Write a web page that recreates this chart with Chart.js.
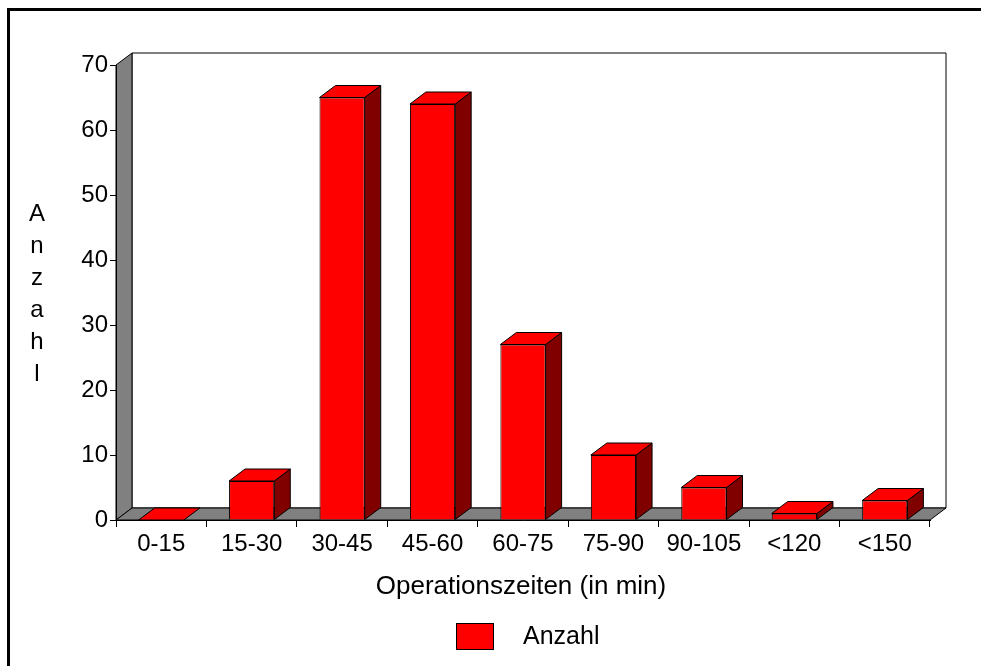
<!DOCTYPE html>
<html>
<head>
<meta charset="utf-8">
<script src="https://cdn.jsdelivr.net/npm/chart.js@4.4.1/dist/chart.umd.min.js"></script>
<style>
  html, body { margin: 0; padding: 0; background: #ffffff; }
  canvas { display: block; }
</style>
</head>
<body>
<canvas id="c" width="981" height="666"></canvas>
<script>
// Surgery durations, grouped in 15-minute classes
const categories = ['0-15', '15-30', '30-45', '45-60', '60-75', '75-90', '90-105', '<120', '<150'];
const anzahl = [0, 6, 65, 64, 27, 10, 5, 1, 3];
const yMin = 0;
const yMax = 70;
const yStep = 10;
const seriesName = 'Anzahl';
const xTitle = 'Operationszeiten (in min)';
const yTitle = 'Anzahl';

const FONT = "'Liberation Sans', Arial, Helvetica, sans-serif";
const DX = 16;   // depth offset of the 3D box, x
const DY = -12;  // depth offset of the 3D box, y
const RED = '#ff0000';
const DARK_RED = '#800000';
const GREY = '#808080';

function poly(ctx, pts, fill, stroke) {
  ctx.beginPath();
  ctx.moveTo(pts[0][0], pts[0][1]);
  for (let i = 1; i < pts.length; i++) ctx.lineTo(pts[i][0], pts[i][1]);
  ctx.closePath();
  if (fill) { ctx.fillStyle = fill; ctx.fill(); }
  if (stroke) { ctx.strokeStyle = stroke; ctx.lineWidth = 1; ctx.stroke(); }
}

const box3d = {
  id: 'box3d',
  beforeDraw(chart) {
    const ctx = chart.ctx;
    const xs = chart.scales.x, ys = chart.scales.y;
    const L = xs.left, R = xs.right;
    const T = ys.getPixelForValue(yMax), B = ys.getPixelForValue(yMin);
    ctx.save();
    // outer frame
    ctx.strokeStyle = '#000';
    ctx.lineWidth = 3;
    ctx.strokeRect(8.5, 9.5, 1100, 800);
    // back wall
    poly(ctx, [[L + DX, T + DY], [R + DX, T + DY], [R + DX, B + DY], [L + DX, B + DY]], '#ffffff', '#000');
    // left wall
    poly(ctx, [[L, B], [L, T], [L + DX, T + DY], [L + DX, B + DY]], GREY, '#000');
    // floor
    poly(ctx, [[L, B], [L + DX, B + DY], [R + DX, B + DY], [R, B]], GREY, '#000');
    ctx.restore();
  },
  afterDatasetsDraw(chart) {
    const ctx = chart.ctx;
    const meta = chart.getDatasetMeta(0);
    ctx.save();
    ctx.lineJoin = 'miter';
    meta.data.forEach((bar) => {
      const p = bar.getProps(['x', 'y', 'base', 'width'], true);
      const x1 = p.x - p.width / 2, x2 = p.x + p.width / 2;
      const top = p.y, bottom = p.base;
      // right side face
      if (bottom - top > 0.5) {
        poly(ctx, [[x2, top], [x2 + DX, top + DY], [x2 + DX, bottom + DY], [x2, bottom]], DARK_RED, '#000');
      }
      // top face
      poly(ctx, [[x1, top], [x1 + DX, top + DY], [x2 + DX, top + DY], [x2, top]], RED, '#000');
    });
    ctx.restore();
  },
  afterDraw(chart) {
    const ctx = chart.ctx;
    ctx.save();
    ctx.fillStyle = '#000';
    // vertical y-axis title, one letter per line
    ctx.font = '24px ' + FONT;
    ctx.textAlign = 'center';
    ctx.textBaseline = 'middle';
    const letters = yTitle.split('');
    letters.forEach((ch, i) => ctx.fillText(ch, 37, 214 + i * 32));
    // x-axis title
    ctx.font = '26px ' + FONT;
    ctx.fillText(xTitle, 521, 587);
    // legend
    const ds = chart.data.datasets[0];
    ctx.fillStyle = ds.backgroundColor;
    ctx.fillRect(456, 623, 38, 27);
    ctx.strokeStyle = '#000';
    ctx.lineWidth = 1;
    ctx.strokeRect(456.5, 623.5, 37, 26);
    ctx.fillStyle = '#000';
    ctx.textAlign = 'left';
    ctx.font = '25px ' + FONT;
    ctx.fillText(ds.label, 523, 637);
    ctx.restore();
  }
};

new Chart(document.getElementById('c'), {
  type: 'bar',
  data: {
    labels: categories,
    datasets: [{
      label: seriesName,
      data: anzahl,
      backgroundColor: RED,
      borderColor: '#000',
      borderWidth: 1,
      barPercentage: 0.5,
      categoryPercentage: 1.0
    }]
  },
  options: {
    responsive: false,
    animation: false,
    events: [],
    layout: { padding: { left: 0, right: 51, top: 65, bottom: 0 } },
    plugins: { legend: { display: false }, tooltip: { enabled: false }, title: { display: false } },
    scales: {
      x: {
        afterFit(scale) { scale.height = 146; },
        grid: { display: true, offset: true, drawOnChartArea: false, tickLength: 7, color: '#000', tickColor: '#000', lineWidth: 1 },
        border: { display: true, color: '#000', width: 1 },
        ticks: { color: '#000', font: { family: FONT, size: 24 }, padding: 3, maxRotation: 0, autoSkip: false }
      },
      y: {
        min: yMin,
        max: yMax,
        afterFit(scale) { scale.width = 116; },
        grid: { display: true, drawOnChartArea: false, tickLength: 6, color: '#000', tickColor: '#000', lineWidth: 1 },
        border: { display: true, color: '#000', width: 1 },
        ticks: { stepSize: yStep, color: '#000', font: { family: FONT, size: 24 }, padding: 2 }
      }
    }
  },
  plugins: [box3d]
});
</script>
</body>
</html>
